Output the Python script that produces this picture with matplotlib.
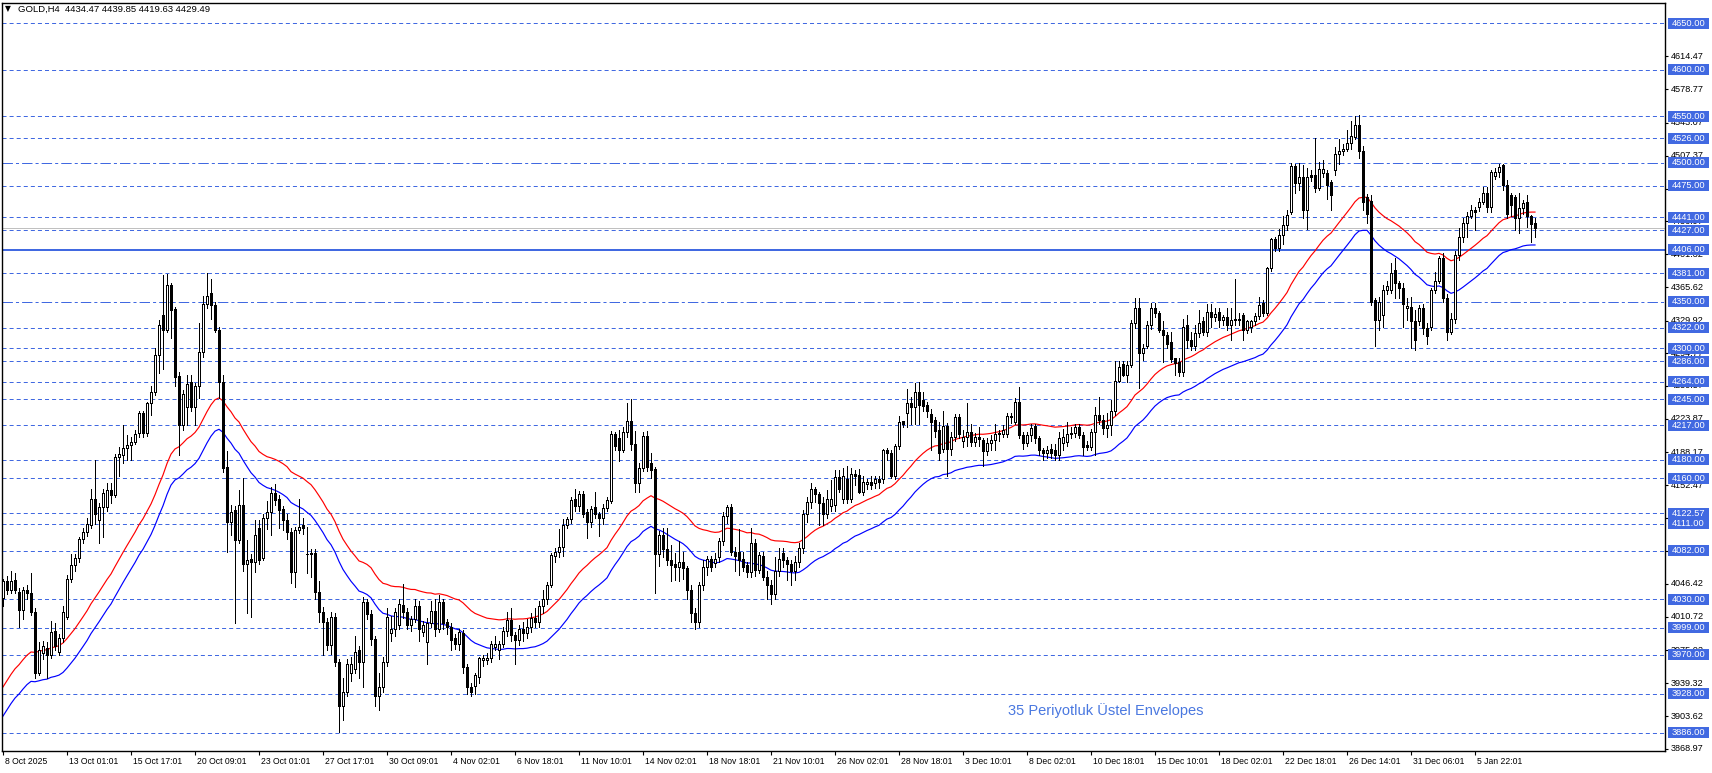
import matplotlib
matplotlib.use("Agg")
import matplotlib.pyplot as plt
import matplotlib.transforms as mtransforms
from matplotlib.patches import Rectangle
import numpy as np

plt.rcParams['font.family'] = ['Liberation Sans', 'DejaVu Sans']
plt.rcParams['lines.scale_dashes'] = False

# ---------------- data (GOLD, H4) ----------------
opens = [
4031,4049,4040,4050,4038,4018,4040,4036,4016,3950,
3972,3977,3970,3996,3973,3988,4011,4052,4067,4074,
4095,4102,4110,4138,4115,4129,4129,4147,4142,4183,
4185,4193,4196,4199,4209,4230,4209,4241,4253,4293,
4336,4320,4368,4342,4270,4217,4237,4264,4237,4259,
4296,4348,4360,4347,4320,4264,4172,4113,4126,4094,
4131,4068,4073,4070,4106,4074,4117,4124,4144,4138,
4127,4115,4102,4059,4104,4110,4079,4078,4080,4038,
4016,4005,3980,4011,3962,3915,3930,3950,3955,3975,
3962,4027,4014,3987,3925,3935,3962,3993,3998,4002,
4024,4016,4002,4009,4022,3994,3984,4004,4017,3998,
4027,4005,4000,3988,3982,3993,3957,3935,3936,3946,
3964,3964,3966,3978,3975,3982,3996,4007,3991,3986,
3998,3993,4000,4010,4005,4022,4030,4045,4076,4081,
4086,4110,4116,4138,4130,4143,4124,4113,4129,4122,
4117,4128,4136,4208,4203,4190,4210,4222,4197,4155,
4171,4206,4176,4170,4078,4099,4084,4072,4068,4065,
4070,4063,4040,4015,4005,4045,4064,4073,4069,4075,
4092,4119,4129,4081,4081,4073,4067,4059,4090,4061,
4076,4054,4045,4035,4060,4080,4072,4068,4060,4070,
4085,4122,4134,4148,4143,4133,4122,4130,4131,4161,
4138,4159,4138,4165,4164,4145,4154,4156,4155,4159,
4159,4190,4187,4162,4195,4222,4230,4241,4237,4253,
4244,4239,4229,4223,4212,4192,4216,4192,4205,4226,
4200,4205,4210,4199,4205,4201,4189,4198,4201,4208,
4208,4208,4226,4221,4242,4207,4198,4207,4216,4203,
4190,4187,4192,4190,4185,4198,4199,4208,4209,4215,
4207,4196,4194,4210,4228,4223,4214,4217,4232,4265,
4283,4271,4282,4327,4343,4295,4303,4325,4343,4338,
4320,4314,4307,4290,4285,4275,4325,4309,4302,4316,
4329,4318,4339,4334,4339,4330,4334,4325,4330,4330,
4336,4320,4323,4329,4335,4349,4338,4386,4418,4408,
4422,4433,4447,4496,4478,4485,4449,4487,4487,4473,
4489,4489,4479,4492,4509,4512,4515,4521,4528,4541,
4512,4463,4459,4352,4330,4336,4363,4363,4384,4370,
4365,4343,4345,4329,4329,4343,4322,4323,4363,4373,
4397,4354,4318,4332,4400,4420,4435,4443,4449,4452,
4458,4467,4452,4486,4490,4497,4476,4465,4463,4440,
4451,4458,4442,4434.47]

highs = [
4052,4055,4060,4058,4042,4043,4045,4058,4020,3984,
3985,3984,4006,4004,3992,4022,4056,4079,4078,4097,
4106,4117,4149,4180,4133,4148,4155,4155,4186,4194,
4217,4207,4205,4212,4232,4233,4242,4259,4300,4330,
4379,4380,4370,4345,4275,4255,4271,4271,4263,4327,
4356,4381,4375,4350,4323,4271,4189,4131,4130,4147,
4160,4094,4078,4115,4115,4122,4136,4151,4154,4142,
4130,4122,4106,4108,4138,4117,4108,4084,4084,4049,
4021,4010,4016,4015,3965,3945,3965,3968,3990,3979,
4032,4030,4018,3990,3950,3968,4020,4012,4020,4030,
4046,4020,4012,4030,4028,4006,4010,4028,4030,4034,
4030,4008,4004,3992,3998,3997,3960,3940,3950,3968,
3970,3972,3985,3990,3985,4000,4016,4020,3995,4002,
4005,4008,4015,4020,4028,4040,4048,4080,4085,4105,
4116,4118,4140,4148,4146,4146,4127,4130,4145,4124,
4132,4140,4211,4210,4212,4215,4241,4245,4211,4176,
4210,4211,4187,4172,4103,4106,4106,4088,4080,4092,
4081,4066,4045,4020,4048,4072,4076,4076,4080,4096,
4124,4131,4132,4086,4105,4081,4070,4107,4095,4081,
4081,4060,4050,4075,4085,4085,4075,4072,4076,4090,
4126,4140,4155,4151,4145,4140,4147,4158,4169,4169,
4171,4173,4171,4169,4170,4162,4159,4162,4163,4162,
4192,4193,4190,4197,4227,4222,4256,4248,4263,4264,
4253,4242,4235,4226,4221,4232,4220,4210,4229,4229,
4212,4241,4219,4209,4215,4203,4203,4207,4219,4212,
4217,4230,4230,4246,4258,4210,4210,4218,4218,4206,
4193,4195,4197,4197,4210,4213,4221,4215,4219,4218,
4210,4200,4213,4237,4248,4228,4230,4244,4286,4286,
4286,4286,4330,4354,4354,4305,4329,4349,4349,4340,
4329,4318,4318,4290,4290,4332,4336,4318,4325,4341,
4334,4348,4348,4343,4343,4336,4343,4343,4375,4338,
4338,4330,4330,4338,4355,4352,4388,4419,4420,4429,
4442,4449,4500,4499,4500,4497,4494,4492,4526,4501,
4503,4492,4481,4517,4525,4520,4535,4545,4550,4551,
4518,4466,4465,4354,4355,4368,4372,4392,4397,4373,
4370,4354,4355,4341,4347,4348,4327,4365,4382,4399,
4403,4358,4338,4405,4430,4440,4447,4454,4452,4462,
4474,4474,4492,4494,4499,4499,4481,4467,4465,4467,
4460,4465,4444,4439.85]

lows = [
4022,4035,4036,4036,4000,4008,4030,4013,3945,3948,
3965,3945,3966,3975,3970,3984,4008,4048,4060,4070,
4090,4098,4106,4111,4090,4097,4125,4133,4140,4162,
4176,4180,4180,4197,4205,4205,4206,4228,4250,4273,
4278,4318,4311,4259,4185,4212,4217,4233,4217,4246,
4291,4343,4332,4318,4246,4167,4081,4099,4004,4090,
4060,4015,4011,4059,4068,4072,4105,4099,4131,4106,
4104,4095,4047,4043,4101,4100,4058,4054,4030,4005,
3970,3975,3971,3958,3887,3900,3925,3942,3950,3945,
3935,4008,3980,3915,3910,3930,3958,3985,3990,3998,
4010,3998,3996,4005,3985,3990,3960,4000,3990,3994,
3998,3992,3975,3976,3975,3950,3928,3925,3928,3940,
3958,3960,3962,3975,3965,3978,3990,3985,3960,3980,
3985,3988,3995,4000,4000,4015,4025,4043,4070,4075,
4076,4106,4112,4125,4125,4118,4096,4108,4117,4098,
4111,4125,4133,4190,4179,4188,4205,4190,4145,4145,
4168,4168,4160,4036,4066,4075,4067,4049,4050,4049,
4052,4030,4005,3998,4000,4040,4056,4060,4065,4070,
4088,4112,4077,4060,4056,4060,4054,4054,4055,4058,
4050,4030,4025,4030,4055,4065,4050,4045,4050,4065,
4080,4113,4128,4135,4110,4110,4117,4125,4125,4145,
4133,4133,4135,4153,4144,4142,4149,4149,4150,4150,
4155,4180,4160,4159,4192,4215,4215,4219,4219,4219,
4233,4226,4190,4205,4180,4188,4163,4185,4200,4203,
4194,4195,4195,4195,4195,4173,4185,4190,4190,4200,
4205,4205,4220,4218,4203,4192,4195,4200,4198,4185,
4180,4182,4182,4180,4180,4190,4195,4203,4205,4203,
4185,4190,4190,4185,4218,4208,4205,4207,4228,4264,
4270,4264,4280,4322,4257,4287,4300,4321,4334,4318,
4285,4300,4285,4271,4270,4270,4300,4298,4298,4312,
4314,4313,4323,4329,4323,4325,4320,4309,4325,4325,
4309,4316,4318,4325,4332,4335,4336,4383,4405,4405,
4412,4427,4445,4467,4470,4440,4429,4480,4468,4470,
4485,4461,4449,4487,4499,4508,4512,4515,4525,4505,
4449,4435,4347,4302,4320,4323,4358,4360,4354,4354,
4323,4330,4300,4298,4325,4315,4305,4320,4360,4370,
4350,4309,4315,4327,4395,4415,4420,4440,4427,4448,
4455,4447,4447,4482,4485,4470,4440,4442,4427,4424,
4445,4431,4415,4419.63]

closes = [
4049,4040,4049,4040,4018,4040,4036,4016,3950,3975,
3979,3970,3995,3979,3988,4016,4052,4067,4074,4095,
4102,4111,4138,4122,4129,4144,4147,4142,4183,4186,
4193,4196,4199,4208,4230,4209,4241,4253,4293,4325,
4320,4368,4341,4269,4217,4251,4262,4237,4259,4296,
4348,4356,4347,4320,4264,4171,4113,4124,4094,4131,
4068,4072,4070,4099,4072,4117,4124,4144,4137,4126,
4115,4102,4059,4104,4108,4107,4078,4080,4038,4016,
4005,3980,4011,3962,3915,3930,3960,3960,3973,3962,
4027,4014,3987,3925,3935,3962,4011,3998,4016,4025,
4016,4002,4009,4022,3998,4002,4004,4017,3998,4027,
4004,4000,3986,3982,3995,3957,3935,3930,3948,3966,
3966,3966,3982,3982,3982,3996,4007,3991,3986,3998,
3993,4000,4010,4005,4022,4030,4045,4077,4081,4086,
4110,4116,4137,4130,4143,4122,4113,4127,4122,4117,
4128,4137,4208,4195,4190,4210,4222,4197,4155,4171,
4206,4172,4169,4078,4099,4084,4072,4067,4065,4070,
4063,4040,4015,4005,4045,4064,4073,4064,4073,4092,
4119,4129,4081,4076,4072,4065,4059,4090,4061,4077,
4054,4045,4035,4060,4073,4072,4068,4060,4070,4085,
4122,4134,4148,4143,4133,4122,4138,4138,4161,4149,
4162,4138,4165,4162,4145,4156,4156,4153,4159,4156,
4190,4187,4162,4195,4221,4219,4241,4237,4253,4239,
4238,4232,4221,4211,4187,4216,4192,4205,4226,4208,
4205,4210,4199,4205,4202,4189,4198,4201,4208,4209,
4212,4227,4227,4242,4207,4198,4207,4214,4203,4190,
4187,4190,4187,4185,4203,4205,4208,4209,4215,4207,
4194,4194,4210,4228,4223,4214,4217,4232,4265,4280,
4271,4282,4327,4343,4295,4300,4325,4343,4338,4320,
4314,4305,4289,4284,4275,4323,4309,4302,4316,4327,
4318,4339,4334,4337,4330,4334,4325,4330,4332,4332,
4320,4329,4329,4335,4347,4338,4386,4418,4408,4422,
4433,4444,4496,4478,4485,4449,4485,4484,4473,4493,
4493,4476,4465,4509,4512,4515,4521,4529,4541,4512,
4458,4445,4350,4330,4350,4363,4367,4381,4370,4365,
4348,4346,4329,4309,4343,4322,4313,4363,4372,4397,
4354,4318,4332,4400,4420,4435,4443,4449,4447,4458,
4467,4452,4490,4490,4495,4476,4445,4454,4440,4451,
4456,4442,4434,4429.49]

ema_period = 35
ema_start = 3912.0          # envelope midline just before the first visible bar
env_deviation = 0.004       # 0.4 %

levels = [4650, 4600, 4550, 4526, 4500, 4475, 4441, 4427, 4406, 4381, 4350,
          4322, 4300, 4286, 4264, 4245, 4217, 4180, 4160, 4122.57, 4111,
          4082, 4030, 3999, 3970, 3928, 3886]
level_style = {4500: 'dashdot', 4350: 'dashdot', 4406: 'solid'}

scale_ticks = [4614.47, 4578.77, 4543.07, 4507.37, 4471.67, 4436.97, 4401.32,
               4365.62, 4329.92, 4294.77, 4259.57, 4223.87, 4188.17, 4152.47,
               4117.12, 4081.77, 4046.42, 4010.72, 3975.02, 3939.32, 3903.62,
               3868.97]

date_labels = ['8 Oct 2025', '13 Oct 01:01', '15 Oct 17:01', '20 Oct 09:01',
               '23 Oct 01:01', '27 Oct 17:01', '30 Oct 09:01', '4 Nov 02:01',
               '6 Nov 18:01', '11 Nov 10:01', '14 Nov 02:01', '18 Nov 18:01',
               '21 Nov 10:01', '26 Nov 02:01', '28 Nov 18:01', '3 Dec 10:01',
               '8 Dec 02:01', '10 Dec 18:01', '15 Dec 10:01', '18 Dec 02:01',
               '22 Dec 18:01', '26 Dec 14:01', '31 Dec 06:01', '5 Jan 22:01']
bars_per_label = 16
bid = 4429.49
title = 'GOLD,H4  4434.47 4439.85 4419.63 4429.49'
indicator_text = '35 Periyotluk Üstel Envelopes'

# ---------------- figure ----------------
W, H = 1712, 773
fig = plt.figure(figsize=(W / 100, H / 100), dpi=100)
fig.patch.set_facecolor('white')
L, R, T, B = 2, 1665, 3, 751
ax = fig.add_axes([L / W, (H - B) / H, (R - L) / W, (B - T) / H])
ax.set_facecolor('white')

ymin, ymax = 3866.3, 4671.9
ax.set_xlim(-0.25, 415.5)
ax.set_ylim(ymin, ymax)
px_per_price = (B - T) / (ymax - ymin)

ROYAL = '#4169E1'
PX = 0.72  # one pixel in points at 100 dpi

o = np.array(opens, float); h = np.array(highs, float)
l = np.array(lows, float); c = np.array(closes, float)
x = np.arange(len(c))

# horizontal levels
for lv in levels:
    st = level_style.get(lv, 'dash')
    if st == 'solid':
        ax.axhline(lv, color=ROYAL, lw=2 * PX, zorder=1)
    elif st == 'dashdot':
        ax.axhline(lv, color=ROYAL, lw=PX, ls=(0, (7.5, 2.2, 2.2, 2.2)), zorder=1)
    else:
        ax.axhline(lv, color=ROYAL, lw=PX, ls=(0, (2.9, 2.2)), zorder=1)

# bid line
ax.axhline(bid, color='#C0C0C0', lw=PX, zorder=1)

# envelopes (EMA 35 of close)
alpha = 2.0 / (ema_period + 1)
ema = []
prev = ema_start
for v in c:
    prev = prev + alpha * (v - prev)
    ema.append(prev)
ema = np.array(ema)
ax.plot(x, ema * (1 + env_deviation), color='red', lw=0.85, zorder=2)
ax.plot(x, ema * (1 - env_deviation), color='blue', lw=0.85, zorder=2)

# candles
ax.vlines(x, l, h, color='black', lw=PX, zorder=3, antialiased=False)
bull = c >= o
bottoms = np.minimum(o, c)
heights = np.abs(c - o)
ax.bar(x, heights, bottom=bottoms, width=0.5,
       color=np.where(bull, 'white', 'black'), edgecolor='black',
       linewidth=PX, zorder=4, antialiased=False)

# spines / ticks
for sp in ax.spines.values():
    sp.set_linewidth(1.0)
    sp.set_color('black')
ax.set_yticks(scale_ticks)
ax.tick_params(axis='y', left=False, right=True, labelleft=False,
               labelright=False, direction='out', length=2.5, width=0.8)
ax.set_xticks([k * bars_per_label for k in range(len(date_labels))])
ax.tick_params(axis='x', bottom=True, labelbottom=False, direction='out',
               length=3, width=0.8)

ytrans = mtransforms.blended_transform_factory(ax.transAxes, ax.transData)
xtrans = mtransforms.blended_transform_factory(ax.transData, ax.transAxes)

ax_w = R - L
for v in scale_ticks:
    ax.text((1671 - L) / ax_w, v, f'{v:.2f}', transform=ytrans, ha='left',
            va='center', fontsize=6.6, color='black', clip_on=False, zorder=5)

box_h = 11 / px_per_price
for lv in levels:
    ax.add_patch(Rectangle(((1668 - L) / ax_w, lv - box_h / 2), 41 / ax_w, box_h,
                           transform=ytrans, facecolor=ROYAL, edgecolor='none',
                           clip_on=False, zorder=8))
    ax.text((1688.5 - L) / ax_w, lv, f'{lv:.2f}', transform=ytrans, ha='center',
            va='center', fontsize=6.7, color='white', clip_on=False, zorder=9)

for k, lab in enumerate(date_labels):
    ax.text(k * bars_per_label + 0.5, -(762 - B) / (B - T), lab, transform=xtrans,
            ha='left', va='center', fontsize=6.2, color='black', clip_on=False)

# header
fig.text(5 / W, 1 - 9 / H, '▼', fontsize=5.5, family='DejaVu Sans', va='center',
         ha='left', color='black')
fig.text(18 / W, 1 - 9 / H, title, fontsize=6.8, va='center', ha='left',
         color='black')

ax.text((1106 - L) / ax_w, (B - 711) / (B - T), indicator_text, transform=ax.transAxes,
        ha='center', va='center', fontsize=10.5, color='#4A78E0')

fig.savefig('out.png', dpi=100, facecolor='white')
